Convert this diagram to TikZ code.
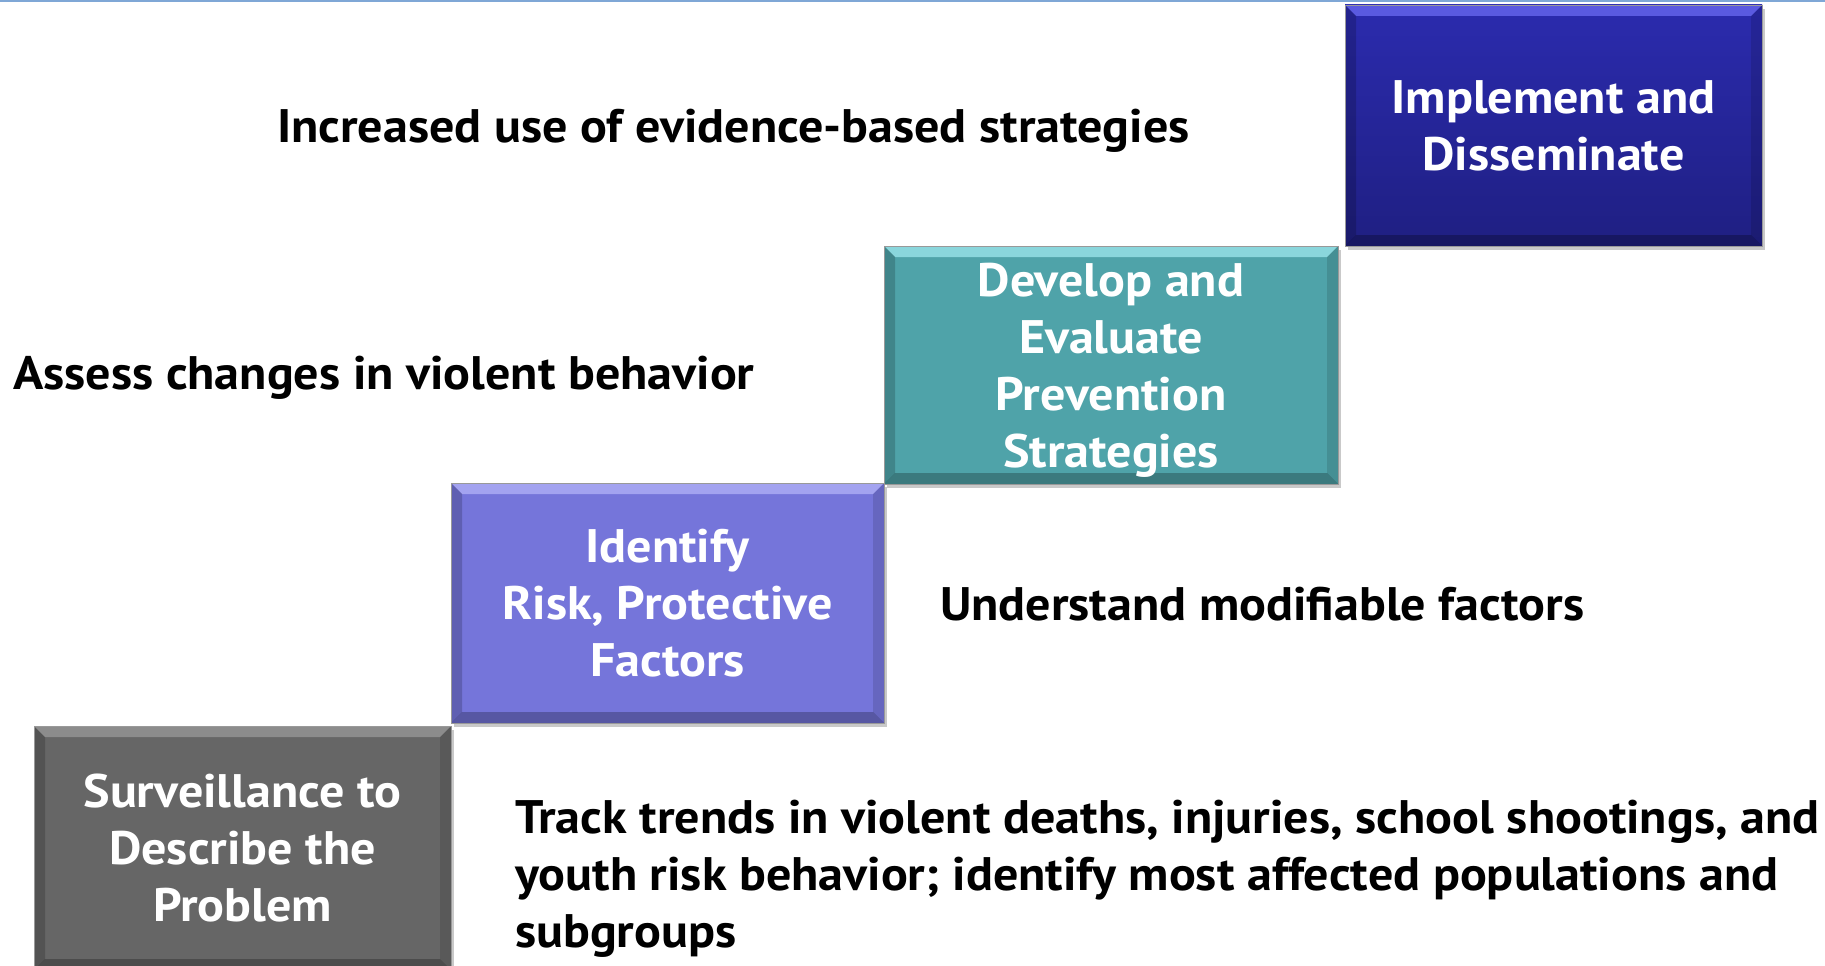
\documentclass[tikz,border=0pt]{standalone}
\usepackage{fontspec}
\setmainfont{PT Sans}[FakeStretch=1.065]
\usetikzlibrary{shadows}
\definecolor{grayA}{HTML}{666666}
\definecolor{grayT}{HTML}{8C8C8C}
\definecolor{purA}{HTML}{7575DA}
\definecolor{purT}{HTML}{A3A3F0}
\definecolor{tealA}{HTML}{4FA3A9}
\definecolor{tealT}{HTML}{8AD6DC}
\definecolor{bluT}{HTML}{2B2BAE}
\definecolor{bluB}{HTML}{1F1F82}
\definecolor{bluH}{HTML}{5A5AE0}
\definecolor{topline}{HTML}{7FA7D6}
\tikzset{
  x=1pt, y=-1pt,
  txt/.style={font=\fontsize{47}{57}\selectfont\bfseries, text=black, inner sep=0pt, align=left},
  stepbox/.style={font=\fontsize{47}{57}\selectfont\bfseries, text=white, inner sep=0pt, align=center,
     draw=black!40, line width=0.6pt,
     drop shadow={shadow xshift=3pt, shadow yshift=-4pt, opacity=0.35, fill=black!60},
     path picture={
       \fill[#1] (path picture bounding box.north west) -- (path picture bounding box.north east)
         -- ([shift={(-11pt,-11pt)}]path picture bounding box.north east)
         -- ([shift={(11pt,-11pt)}]path picture bounding box.north west) -- cycle;
       \fill[black,opacity=0.18] (path picture bounding box.north west) -- ([shift={(11pt,-11pt)}]path picture bounding box.north west)
         -- ([shift={(11pt,11pt)}]path picture bounding box.south west) -- (path picture bounding box.south west) -- cycle;
       \fill[black,opacity=0.25] (path picture bounding box.south west) -- (path picture bounding box.south east)
         -- ([shift={(-11pt,11pt)}]path picture bounding box.south east)
         -- ([shift={(11pt,11pt)}]path picture bounding box.south west) -- cycle;
       \fill[black,opacity=0.12] (path picture bounding box.north east) -- ([shift={(-11pt,-11pt)}]path picture bounding box.north east)
         -- ([shift={(-11pt,11pt)}]path picture bounding box.south east) -- (path picture bounding box.south east) -- cycle;
     }},
}
\begin{document}
\begin{tikzpicture}
\useasboundingbox (0,0) rectangle (1825,966);
\fill[white] (0,0) rectangle (1825,966);
\draw[topline, line width=2pt] (0,1) -- (1825,1);

% boxes
\node[stepbox=grayT, fill=grayA, minimum width=417pt, minimum height=244pt] (surv) at (242.5,848)
  {Surveillance to\\Describe the\\Problem};
\node[stepbox=purT, fill=purA, minimum width=433pt, minimum height=240pt, text depth=0pt] (risk) at (667.5,603)
  {Identify\\Risk, Protective\\Factors};
\node[stepbox=tealT, fill=tealA, minimum width=454pt, minimum height=238pt, text depth=0pt] (dev) at (1111,365)
  {Develop and\\Evaluate\\Prevention\\Strategies};
\node[stepbox=bluH, top color=bluT, bottom color=bluB, minimum width=417pt, minimum height=241pt] (impl) at (1553.5,125.5)
  {Implement and\\Disseminate};

% descriptions
\node[txt, anchor=base west] (inc) at (277,142) {Increased use of evidence-based strategies};
\node[txt, anchor=base west] (assess) at (13,389) {Assess changes in violent behavior};
\node[txt, anchor=base west] (under) at (940,620) {Understand modifiable factors};
\node[txt, anchor=north west] (track) at (515,800)
  {Track trends in violent deaths, injuries, school shootings, and\\youth risk behavior; identify most affected populations and\\subgroups};
\end{tikzpicture}
\end{document}
